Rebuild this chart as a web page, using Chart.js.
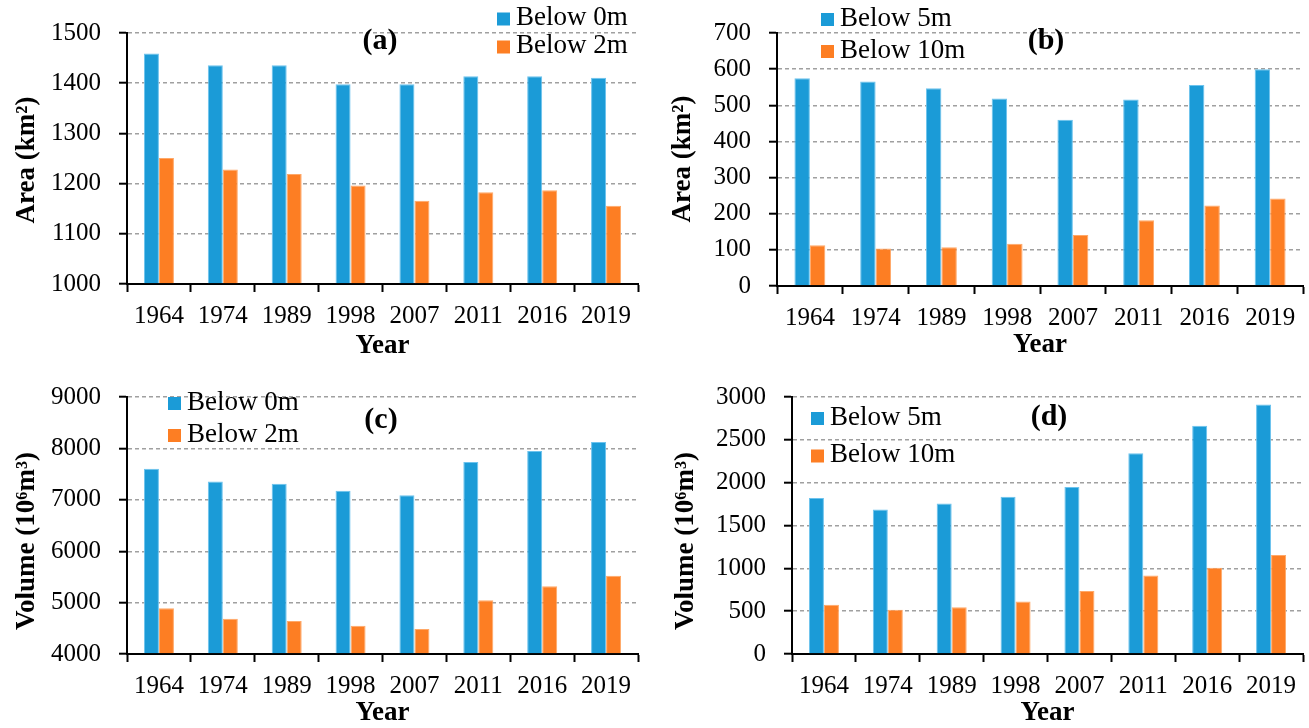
<!DOCTYPE html>
<html>
<head>
<meta charset="utf-8">
<title>Area and volume below depth thresholds, 1964–2019</title>
<script src="https://cdn.jsdelivr.net/npm/chart.js@4.4.1/dist/chart.umd.min.js"></script>
<style>
  html, body { margin: 0; padding: 0; background: #ffffff; }
  #wrap { position: relative; width: 1309px; height: 728px; overflow: hidden; background: #ffffff; }
  .panel { position: absolute; }
  .panel canvas { display: block; }
</style>
</head>
<body>
<div id="wrap">
  <div class="panel" style="left:0px;top:0px;"><canvas id="chartA" width="654" height="364"></canvas></div>
  <div class="panel" style="left:654px;top:0px;"><canvas id="chartB" width="655" height="364"></canvas></div>
  <div class="panel" style="left:0px;top:364px;"><canvas id="chartC" width="654" height="364"></canvas></div>
  <div class="panel" style="left:654px;top:364px;"><canvas id="chartD" width="655" height="364"></canvas></div>
</div>
<script>
// Survey years (shared x axis)
const years = ['1964', '1974', '1989', '1998', '2007', '2011', '2016', '2019'];

// (a) Area (km²) below 0 m and 2 m
const areaBelow0m = [1459, 1436, 1436, 1398, 1398, 1414, 1414, 1411];
const areaBelow2m = [1251, 1228, 1219, 1196, 1166, 1183, 1187, 1156];

// (b) Area (km²) below 5 m and 10 m
const areaBelow5m  = [575, 566, 547, 519, 460, 516, 556, 600];
const areaBelow10m = [113, 104, 107, 117, 141, 182, 223, 242];

// (c) Volume (10⁶ m³) below 0 m and 2 m
const volBelow0m = [7603, 7355, 7310, 7176, 7087, 7737, 7948, 8126];
const volBelow2m = [4889, 4685, 4644, 4549, 4485, 5046, 5320, 5524];

// (d) Volume (10⁶ m³) below 5 m and 10 m
const volBelow5m  = [1821, 1687, 1756, 1837, 1948, 2342, 2663, 2912];
const volBelow10m = [574, 517, 547, 612, 735, 915, 1006, 1156];

// Value-axis ranges [min, max, step]
const axisA = [1000, 1500, 100];
const axisB = [0, 700, 100];
const axisC = [4000, 9000, 1000];
const axisD = [0, 3000, 500];

const BLUE = '#1b9bd7';
const ORANGE = '#fd7e23';
const SERIF = '"Liberation Serif", "Times New Roman", serif';

// Legend squares, panel letter and rotated value-axis title
const insetPlugin = {
  id: 'inset',
  afterDatasetsDraw(chart, args, opts) {
    const ctx = chart.ctx;
    ctx.save();
    ctx.textBaseline = 'middle';
    ctx.fillStyle = '#000';
    ctx.font = 'bold 30px ' + SERIF;
    ctx.textAlign = 'center';
    ctx.fillText(opts.tag, opts.tagX, opts.tagY);

    ctx.font = '27px ' + SERIF;
    ctx.textAlign = 'left';
    chart.data.datasets.forEach((ds, i) => {
      const cy = opts.legY + i * opts.legDy;
      ctx.fillStyle = ds.backgroundColor;
      ctx.fillRect(opts.legX, cy - 6.5, 13, 13);
      ctx.fillStyle = '#000';
      ctx.fillText(ds.label, opts.legX + 19, cy - 1);
    });

    ctx.save();
    ctx.translate(opts.titleX, opts.titleY);
    ctx.rotate(-Math.PI / 2);
    ctx.textAlign = 'center';
    ctx.fillStyle = '#000';
    ctx.font = 'bold 27px ' + SERIF;
    ctx.fillText(opts.title, 0, 0);
    ctx.restore();

    ctx.restore();
  }
};

function buildChart(id, box, seriesNames, s1, s2, axis, inset) {
  const [yMin, yMax, yStep] = axis;
  return new Chart(document.getElementById(id), {
    type: 'bar',
    data: {
      labels: years,
      datasets: [
        { label: seriesNames[0], data: s1, backgroundColor: BLUE, borderColor: '#6cc3ee', borderWidth: 1, base: yMin },
        { label: seriesNames[1], data: s2, backgroundColor: ORANGE, borderColor: '#ffa868', borderWidth: 1, base: yMin }
      ]
    },
    options: {
      responsive: false,
      animation: false,
      events: [],
      layout: { padding: { top: box.top, right: box.right, left: 0, bottom: 0 } },
      datasets: { bar: { categoryPercentage: 0.47, barPercentage: 1.0 } },
      plugins: {
        legend: { display: false },
        tooltip: { enabled: false },
        inset: inset
      },
      scales: {
        x: {
          afterFit: (s) => { s.height = box.xh; },
          grid: { display: true, drawOnChartArea: false, drawTicks: true, tickLength: 8,
                  tickColor: '#000', tickWidth: 2, offset: true },
          border: { display: true, color: '#000', width: 2 },
          ticks: { color: '#000', font: { family: SERIF, size: 25 }, padding: 9,
                   maxRotation: 0, autoSkip: false },
          title: { display: true, text: 'Year', color: '#000',
                   font: { family: SERIF, size: 27, weight: 'bold' },
                   padding: { top: 0, bottom: box.titleB } }
        },
        y: {
          min: yMin, max: yMax,
          afterFit: (s) => { s.width = box.left; },
          grid: { color: '#a0a0a0', lineWidth: 1.4, drawTicks: true, tickLength: 8,
                  tickColor: '#000', tickWidth: 2 },
          border: { display: true, color: '#000', width: 2, dash: [4, 3] },
          ticks: { stepSize: yStep, color: '#000', font: { family: SERIF, size: 25 }, padding: 18,
                   callback: (v) => String(v) }
        }
      }
    },
    plugins: [insetPlugin]
  });
}

buildChart('chartA', { top: 23, right: 16, left: 127, xh: 80, titleB: 2 },
  ['Below 0m', 'Below 2m'], areaBelow0m, areaBelow2m, axisA,
  { tag: '(a)', tagX: 380, tagY: 41, legX: 497, legY: 19, legDy: 28,
    title: 'Area (km²)', titleX: 27, titleY: 160 });

buildChart('chartB', { top: 20, right: 6, left: 123, xh: 78, titleB: 3 },
  ['Below 5m', 'Below 10m'], areaBelow5m, areaBelow10m, axisB,
  { tag: '(b)', tagX: 392, tagY: 41, legX: 167, legY: 19.5, legDy: 32,
    title: 'Area (km²)', titleX: 29, titleY: 159 });

buildChart('chartC', { top: 29, right: 16, left: 127, xh: 74, titleB: -1 },
  ['Below 0m', 'Below 2m'], volBelow0m, volBelow2m, axisC,
  { tag: '(c)', tagX: 381, tagY: 56, legX: 168, legY: 39.5, legDy: 32,
    title: 'Volume (10⁶m³)', titleX: 27, titleY: 177 });

buildChart('chartD', { top: 29, right: 6, left: 138, xh: 74, titleB: -1 },
  ['Below 5m', 'Below 10m'], volBelow5m, volBelow10m, axisD,
  { tag: '(d)', tagX: 395, tagY: 53, legX: 157, legY: 54.5, legDy: 37.5,
    title: 'Volume (10⁶m³)', titleX: 32, titleY: 177 });
</script>
</body>
</html>
